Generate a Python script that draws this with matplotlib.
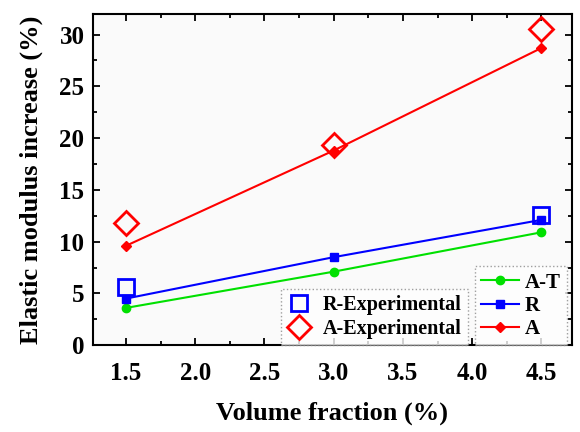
import matplotlib.pyplot as plt
from matplotlib.ticker import MultipleLocator

plt.rcParams['font.family'] = 'Liberation Serif'
plt.rcParams['font.weight'] = 'bold'

vf = [1.5, 3.0, 4.5]
at_vals = [3.6, 7.1, 10.9]
r_vals = [4.5, 8.5, 12.1]
a_vals = [9.6, 18.8, 28.7]
r_exp_x = [1.5, 4.5]
r_exp = [5.6, 12.6]
a_exp = [11.8, 19.3, 30.5]

fig = plt.figure(figsize=(5.8, 4.32), dpi=100)
ax = fig.add_axes([0.160, 0.201, 0.826, 0.767])
ax.set_facecolor('#fafafa')

p_at, = ax.plot(vf, at_vals, '-o', color='#00e000', ms=6, lw=1.5, label='A-T')
p_r, = ax.plot(vf, r_vals, '-s', color='#0000ff', ms=5.5, lw=1.5, label='R')
p_a, = ax.plot(vf, a_vals, '-D', color='#ff0000', ms=5.5, lw=1.5, label='A')
p_re, = ax.plot(r_exp_x, r_exp, 's', mfc='none', mec='#0000ff', mew=2, ms=12,
                label='R-Experimental')
p_ae, = ax.plot(vf, a_exp, 'D', mfc='none', mec='#ff0000', mew=2, ms=12,
                label='A-Experimental')

ax.set_xlim(1.26, 4.72)
ax.set_ylim(0, 32)
ax.xaxis.set_major_locator(MultipleLocator(0.5))
ax.xaxis.set_minor_locator(MultipleLocator(0.25))
ax.yaxis.set_major_locator(MultipleLocator(5))
ax.yaxis.set_minor_locator(MultipleLocator(2.5))
ax.tick_params(which='both', direction='in', top=True, right=True, width=1.3)
ax.tick_params(which='major', length=5, labelsize=18, pad=6)
ax.tick_params(axis='x', which='major', pad=12)
ax.tick_params(which='minor', length=3)
for s in ax.spines.values():
    s.set_linewidth(1.5)

ax.set_xlabel('Volume fraction (%)', fontsize=19, fontweight='bold', labelpad=12)
ax.set_ylabel('Elastic modulus increase (%)', fontsize=19, fontweight='bold',
              labelpad=12)

leg1 = ax.legend(handles=[p_at, p_r, p_a], loc='lower right',
                 bbox_to_anchor=(0.99, 0.0), fontsize=15, frameon=True,
                 fancybox=False, handlelength=1.8, borderaxespad=0,
                 labelspacing=0.15, handletextpad=0.3, borderpad=0.3)
leg1.get_frame().set_linestyle(':')
leg1.get_frame().set_edgecolor('#888888')
ax.add_artist(leg1)
leg2 = ax.legend(handles=[p_re, p_ae], loc='lower right',
                 bbox_to_anchor=(0.783, 0.0), fontsize=14.5, frameon=True,
                 fancybox=False, handlelength=1.2, borderaxespad=0,
                 labelspacing=0.2, handletextpad=0.6, borderpad=0.3)
leg2.get_frame().set_linestyle(':')
leg2.get_frame().set_edgecolor('#888888')

fig.savefig('out.png', dpi=100)
